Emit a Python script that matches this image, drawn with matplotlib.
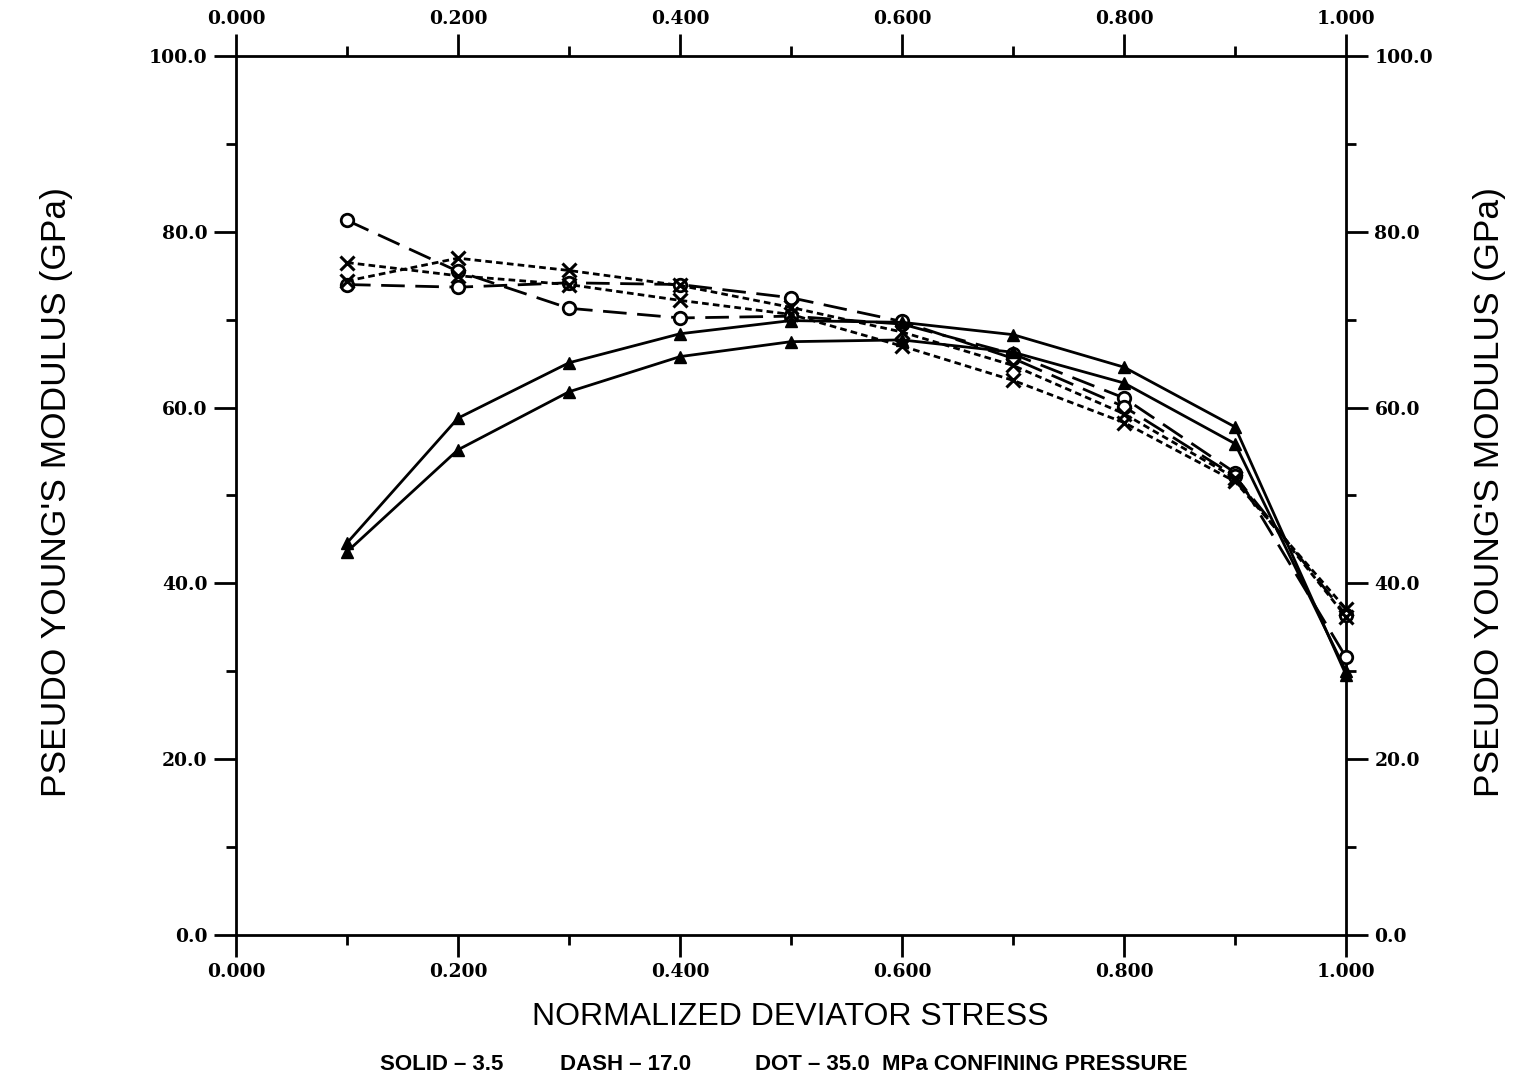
import matplotlib
matplotlib.use("Agg")
import matplotlib.pyplot as plt
from matplotlib.ticker import MultipleLocator, FormatStrFormatter
from matplotlib.font_manager import FontProperties

# ---- data ----
stress = [0.1, 0.2, 0.3, 0.4, 0.5, 0.6, 0.7, 0.8, 0.9, 1.0]

solid_a = [44.6, 58.8, 65.1, 68.4, 69.9, 69.7, 68.3, 64.6, 57.8, 29.6]
solid_b = [43.6, 55.2, 61.8, 65.8, 67.5, 67.7, 66.3, 62.8, 55.9, 30.0]

dash_a = [81.3, 75.5, 71.3, 70.2, 70.4, 69.5, 66.1, 61.1, 52.6, 31.6]
dash_b = [74.0, 73.7, 74.2, 74.0, 72.5, 69.8, 65.6, 60.1, 52.2, 36.4]

dot_a = [76.5, 75.0, 74.0, 72.2, 70.6, 67.0, 63.1, 58.3, 51.6, 37.1]
dot_b = [74.4, 77.0, 75.6, 73.9, 71.4, 68.6, 64.8, 59.3, 52.0, 36.2]

xticks = [0.0, 0.2, 0.4, 0.6, 0.8, 1.0]
yticks = [0.0, 20.0, 40.0, 60.0, 80.0, 100.0]

xlabel = "NORMALIZED DEVIATOR STRESS"
ylabel = "PSEUDO YOUNG'S MODULUS (GPa)"
note_parts = ["SOLID \u2013 3.5", "DASH \u2013 17.0", "DOT \u2013 35.0  MPa CONFINING PRESSURE"]

# ---- figure ----
W, H = 1519, 1083
fig = plt.figure(figsize=(W / 100, H / 100), dpi=100)
ax = fig.add_axes([236 / W, 1 - 935 / H, (1346 - 236) / W, (935 - 56) / H])

lw = 2.0
ms = 9
dash_style = (8.5, 3.8)
dot_style = (2.4, 1.5)

for ys in (solid_a, solid_b):
    ax.plot(stress, ys, color="black", lw=lw, linestyle="-",
            marker="^", markersize=ms, markerfacecolor="black",
            markeredgecolor="black", clip_on=False, zorder=4)
for ys in (dash_a, dash_b):
    ax.plot(stress, ys, color="black", lw=lw, dashes=dash_style,
            marker="o", markersize=ms, markerfacecolor="white",
            markeredgecolor="black", markeredgewidth=2.0, clip_on=False, zorder=3)
for ys in (dot_a, dot_b):
    ax.plot(stress, ys, color="black", lw=lw, dashes=dot_style,
            marker="x", markersize=ms + 1, markeredgewidth=2.2,
            clip_on=False, zorder=3)

ax.set_xlim(0.0, 1.0)
ax.set_ylim(0.0, 100.0)
ax.set_xticks(xticks)
ax.set_yticks(yticks)
ax.xaxis.set_minor_locator(MultipleLocator(0.1))
ax.yaxis.set_minor_locator(MultipleLocator(10))
ax.xaxis.set_major_formatter(FormatStrFormatter("%.3f"))
ax.yaxis.set_major_formatter(FormatStrFormatter("%.1f"))

for s in ax.spines.values():
    s.set_linewidth(2.0)

ax.tick_params(which="both", direction="out", top=True, right=True,
               labeltop=True, labelright=True, width=2.0, color="black")
ax.tick_params(which="major", length=15.5)
ax.tick_params(which="minor", length=7.5)
ax.tick_params(axis="x", which="major", pad=5)
ax.tick_params(axis="y", which="major", pad=5)

tick_fp = FontProperties(family="DejaVu Serif", weight="bold", size=13.5)
for t in ax.xaxis.get_major_ticks() + ax.yaxis.get_major_ticks():
    t.label1.set_fontproperties(tick_fp)
    t.label2.set_fontproperties(tick_fp)

fig.text(790 / W, 1 - 1017 / H, xlabel, ha="center", va="center",
         family="Liberation Sans", size=23)
fig.text(57 / W, 1 - 492 / H, ylabel, ha="center", va="center", rotation=90,
         family="Liberation Sans", size=25.5)
fig.text(1490 / W, 1 - 492 / H, ylabel, ha="center", va="center", rotation=90,
         family="Liberation Sans", size=25.5)

note_x = [380, 560, 755]
for px, txt in zip(note_x, note_parts):
    fig.text(px / W, 1 - 1065 / H, txt, ha="left", va="center",
             family="Liberation Sans", weight="bold", size=16)

fig.savefig("out.png", dpi=100, facecolor="white")
